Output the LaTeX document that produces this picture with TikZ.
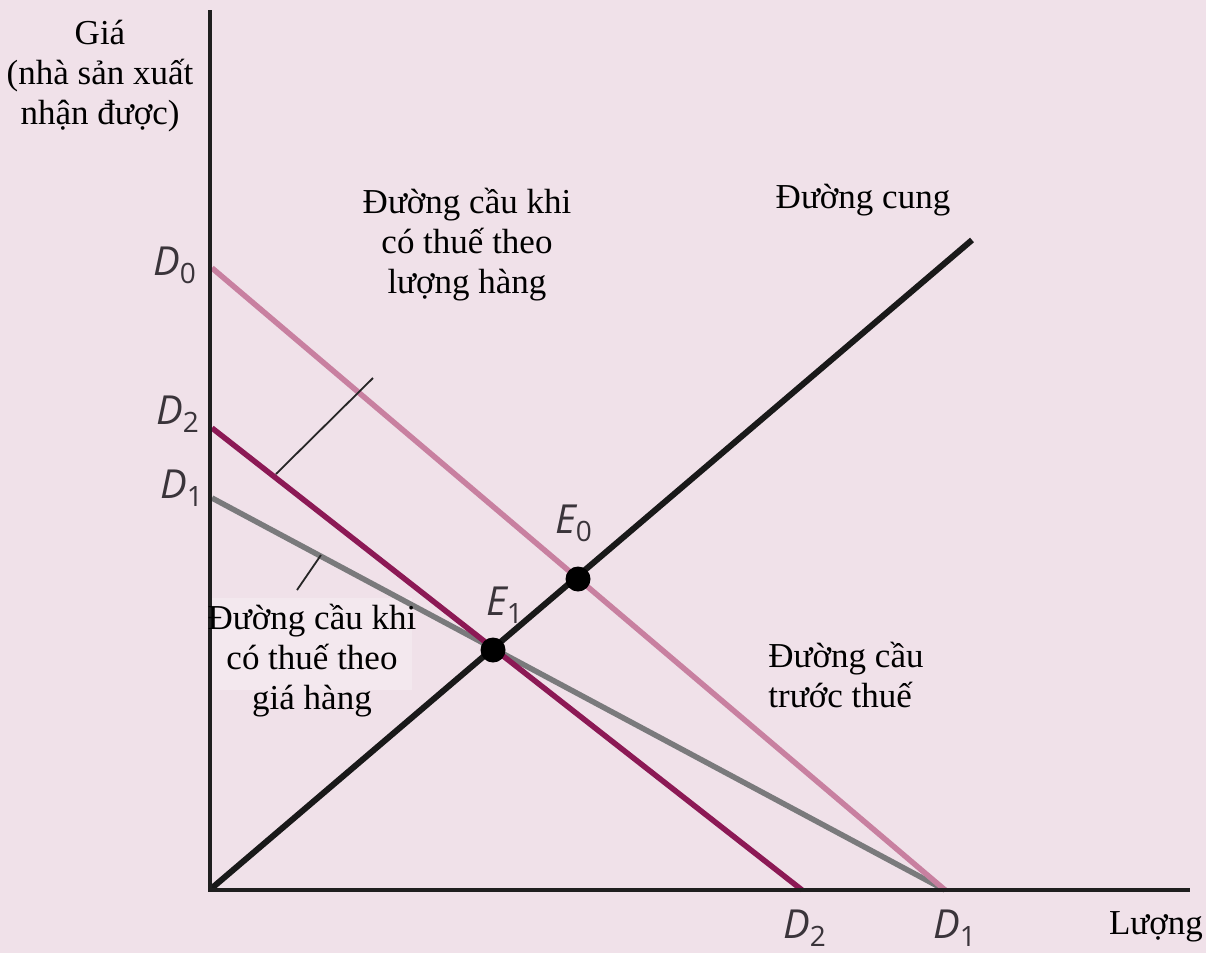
\documentclass[tikz,border=0pt]{standalone}
\usepackage{fontspec}
\setmainfont{Liberation Serif}
\newfontfamily\labfont{Open Sans}
\definecolor{bg}{RGB}{240,225,233}
\definecolor{boxbg}{RGB}{243,232,238}
\definecolor{dzero}{RGB}{200,128,160}
\definecolor{dtwo}{RGB}{140,25,85}
\definecolor{done}{RGB}{122,122,124}
\definecolor{labgray}{RGB}{58,52,58}
\begin{document}
\begin{tikzpicture}[x=1pt,y=-1pt,
  txt/.style={font=\fontsize{35}{40}\selectfont, align=center, inner sep=0pt, text=black},
  lab/.style={font=\labfont\itshape\fontsize{40}{42}\selectfont, text=labgray, inner sep=0pt},
  axisline/.style={line width=4pt, black!88},
  curve/.style={line width=5.5pt},
  leader/.style={line width=1.8pt, black!85},
  eqpt/.style={circle, fill=black, minimum size=25pt, inner sep=0pt}]
\fill[bg] (0,0) rectangle (1206,953);
\useasboundingbox (0,0) rectangle (1206,953);

% axes
\coordinate (O) at (210,890);
\coordinate (ytop) at (210,10);
\coordinate (xend) at (1190,890);

% curve end points
\coordinate (s0) at (212,888);
\coordinate (s1) at (972,240);
\coordinate (d0a) at (212,268);
\coordinate (d0b) at (945,890);
\coordinate (d2a) at (212,428);
\coordinate (d2b) at (802,890);
\coordinate (d1a) at (212,498);
\coordinate (d1b) at (945,890);

% lower label background
\fill[boxbg] (212,598) rectangle (412,690);

\draw[curve, done] (d1a) -- (d1b);
\draw[curve, dzero] (d0a) -- (d0b);
\draw[curve, dtwo] (d2a) -- (d2b);
\draw[curve, black!90, line width=6pt] (s0) -- (s1);

\draw[axisline] (ytop) -- (O) -- (xend);

\node[eqpt] (E0) at (578,579) {};
\node[eqpt] (E1) at (493,650) {};

% leader lines
\coordinate (la) at (276,474);
\coordinate (lb) at (373,378);
\coordinate (lc) at (297,590);
\coordinate (ld) at (321,555);
\draw[leader] (la) -- (lb);
\draw[leader] (lc) -- (ld);

% texts
\node[txt] (ylab) at (100,76) {Giá\\(nhà sản xuất\\nhận được)};
\node[txt] (lq) at (467,245) {Đường cầu khi\\có thuế theo\\lượng hàng};
\node[txt] (sup) at (863,200) {Đường cung};
\node[txt, align=left] (pre) at (846,675) {Đường cầu\\trước thuế};
\node[txt] (lp) at (312,661) {Đường cầu khi\\có thuế theo\\giá hàng};
\node[txt, anchor=base] (qlab) at (1156,934) {Lượng};

% math labels
\node[lab, anchor=base west] (lD0) at (153,275) {D\raisebox{-8pt}{\upshape\fontsize{28}{30}\selectfont 0}};
\node[lab, anchor=base west] (lD2) at (156,424) {D\raisebox{-8pt}{\upshape\fontsize{28}{30}\selectfont 2}};
\node[lab, anchor=base west] (lD1) at (160,498) {D\raisebox{-8pt}{\upshape\fontsize{28}{30}\selectfont 1}};
\node[lab, anchor=base west] (bD2) at (783,938) {D\raisebox{-8pt}{\upshape\fontsize{28}{30}\selectfont 2}};
\node[lab, anchor=base west] (bD1) at (933,938) {D\raisebox{-8pt}{\upshape\fontsize{28}{30}\selectfont 1}};
\node[lab, anchor=base west] (lE0) at (555,533) {E\raisebox{-8pt}{\upshape\fontsize{28}{30}\selectfont 0}};
\node[lab, anchor=base west] (lE1) at (486,615) {E\raisebox{-8pt}{\upshape\fontsize{28}{30}\selectfont 1}};
\end{tikzpicture}
\end{document}
